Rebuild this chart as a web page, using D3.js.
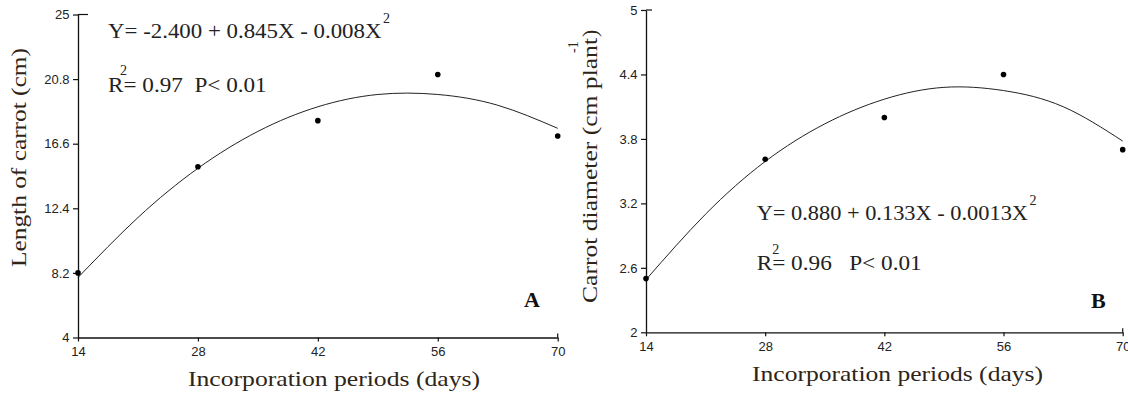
<!DOCTYPE html>
<html>
<head>
<meta charset="utf-8">
<script src="https://cdn.jsdelivr.net/npm/d3@7"></script>
<style>
    body { margin: 0; background: #fff; }
    svg text { white-space: pre; }
</style>
</head>
<body>
<div class="charts-div"></div>
<script>
// measured points
const days = [14, 28, 42, 56, 70];
const lengthValues = [8.2, 15.1, 18.1, 21.1, 17.1];
const diameterValues = [2.5, 3.61, 4.0, 4.4, 3.7];

// fitted curve every 7 days
const fitDays = [14, 21, 28, 35, 42, 49, 56, 63, 70];
const lengthFit = [7.9, 11.8, 15.0, 17.4, 19.0, 19.8, 19.8, 19.1, 17.6];
const diameterFit = [2.49, 3.1, 3.59, 3.94, 4.17, 4.28, 4.25, 4.1, 3.78];

// tick labels
const lengthTicks = [4, 8.2, 12.4, 16.6, 20.8, 25];
const diameterTicks = [2, 2.6, 3.2, 3.8, 4.4, 5];

const SERIF = "'Liberation Serif', 'Times New Roman', serif";
const SANS = "'Liberation Sans', Arial, sans-serif";
const TITLE_COLOR = "#2e2518";
const TEXT_COLOR = "#222";

const svg = d3.select(".charts-div").append("svg")
    .attr("width", 1128)
    .attr("height", 394)
    .attr("viewBox", [0, 0, 1128, 394]);

const drawPanel = (panel) => {
    const { x0, x1, y0, y1, yTicks, values, fit } = panel;
    const x = d3.scaleLinear().domain([14, 70]).range([x0, x1]);
    const y = d3.scaleLinear().domain(d3.extent(yTicks)).range([y1, y0]);
    const g = svg.append("g");

    // y axis
    const yAxis = g.append("g")
        .attr("transform", `translate(${x0},0)`)
        .call(d3.axisLeft(y).tickValues(yTicks).tickFormat((d) => String(d)).tickSize(5).tickSizeOuter(0).tickPadding(3.5));
    yAxis.select(".domain").attr("stroke", "#111").attr("stroke-width", 1.3);
    yAxis.selectAll(".tick line").attr("stroke", "#111").attr("stroke-width", 1.2);
    yAxis.selectAll("text").attr("font-family", SANS).attr("font-size", 13).attr("fill", TEXT_COLOR);
    // little cap at the top of the y axis
    g.append("line")
        .attr("x1", x0).attr("x2", x0 + panel.capRight)
        .attr("y1", y(d3.max(yTicks))).attr("y2", y(d3.max(yTicks)))
        .attr("stroke", "#111").attr("stroke-width", 1.2);

    // x axis
    const xAxis = g.append("g")
        .attr("transform", `translate(0,${y1})`)
        .call(d3.axisBottom(x).tickValues(days).tickSize(4).tickSizeOuter(0).tickPadding(5));
    xAxis.select(".domain").attr("stroke", "#111").attr("stroke-width", 1.3);
    xAxis.selectAll(".tick line").attr("stroke", "#111").attr("stroke-width", 1.2);
    xAxis.selectAll("text").attr("font-family", SANS).attr("font-size", 13).attr("fill", TEXT_COLOR);
    g.append("line")
        .attr("x1", x(70)).attr("x2", x(70))
        .attr("y1", y1 - 4).attr("y2", y1)
        .attr("stroke", "#111").attr("stroke-width", 1.2);

    // fitted curve
    const line = d3.line()
        .x((d, i) => x(fitDays[i]))
        .y((d) => y(d))
        .curve(d3.curveNatural);
    g.append("path")
        .attr("d", line(fit))
        .attr("fill", "none")
        .attr("stroke", "#222")
        .attr("stroke-width", 1);

    // points
    g.selectAll(".visualPlotting")
        .data(values)
        .join("circle")
        .attr("class", "visualPlotting")
        .attr("cx", (d, i) => x(days[i]))
        .attr("cy", (d) => y(d))
        .attr("r", 2.8)
        .attr("fill", "#000");

    // x title
    g.append("text")
        .attr("x", panel.xTitle[0]).attr("y", panel.xTitle[1])
        .attr("textLength", panel.xTitle[2]).attr("lengthAdjust", "spacingAndGlyphs")
        .attr("font-family", SERIF).attr("font-size", 22).attr("fill", TITLE_COLOR)
        .text("Incorporation periods (days)");

    // panel letter
    g.append("text")
        .attr("x", panel.letter[0]).attr("y", panel.letter[1])
        .attr("font-family", SERIF).attr("font-size", 22).attr("font-weight", "bold").attr("fill", "#111")
        .text(panel.letter[2]);

    // regression text
    const eq = panel.equation;
    g.append("text")
        .attr("x", eq.x).attr("y", eq.y1)
        .attr("textLength", eq.len1).attr("lengthAdjust", "spacingAndGlyphs")
        .attr("font-family", SERIF).attr("font-size", 20).attr("fill", TEXT_COLOR)
        .text(eq.line1);
    g.append("text")
        .attr("x", eq.x + eq.len1 + 1.5).attr("y", eq.y1 - 15)
        .attr("font-family", SERIF).attr("font-size", 14).attr("fill", TEXT_COLOR)
        .text("2");
    g.append("text")
        .attr("x", eq.x).attr("y", eq.y2)
        .attr("textLength", eq.len2).attr("lengthAdjust", "spacingAndGlyphs")
        .attr("font-family", SERIF).attr("font-size", 20).attr("fill", TEXT_COLOR)
        .text(eq.line2);
    g.append("text")
        .attr("x", eq.x + eq.rSup).attr("y", eq.y2 - 16.5)
        .attr("font-family", SERIF).attr("font-size", 14).attr("fill", TEXT_COLOR)
        .text("2");

    return g;
};

// Panel A
const panelA = drawPanel({
    x0: 78, x1: 557.7, y0: 14.5, y1: 337.5, capRight: 10,
    yTicks: lengthTicks, values: lengthValues, fit: lengthFit,
    xTitle: [188, 386, 292],
    letter: [524, 307, "A"],
    equation: {
        x: 108, y1: 38.3, y2: 91.7, len1: 273.5, len2: 158.7, rSup: 12,
        line1: "Y= -2.400 + 0.845X - 0.008X",
        line2: "R= 0.97  P< 0.01"
    }
});
panelA.append("text")
    .attr("transform", "translate(26,157.5) rotate(-90)")
    .attr("text-anchor", "middle")
    .attr("textLength", 219).attr("lengthAdjust", "spacingAndGlyphs")
    .attr("font-family", SERIF).attr("font-size", 22).attr("fill", TITLE_COLOR)
    .text("Length of carrot (cm)");

// Panel B
const panelB = drawPanel({
    x0: 646, x1: 1122.7, y0: 10, y1: 332.3, capRight: 6,
    yTicks: diameterTicks, values: diameterValues, fit: diameterFit,
    xTitle: [752, 381, 291],
    letter: [1091, 308, "B"],
    equation: {
        x: 756.7, y1: 220, y2: 270, len1: 271.3, len2: 165, rSup: 15.5,
        line1: "Y= 0.880 + 0.133X - 0.0013X",
        line2: "R= 0.96   P< 0.01"
    }
});
const yTitleB = panelB.append("g").attr("transform", "translate(597,303) rotate(-90)");
yTitleB.append("text")
    .attr("x", 0).attr("y", 0)
    .attr("textLength", 265).attr("lengthAdjust", "spacingAndGlyphs")
    .attr("font-family", SERIF).attr("font-size", 22).attr("fill", TITLE_COLOR)
    .text("Carrot diameter (cm plant");
yTitleB.append("text")
    .attr("x", 250).attr("y", -19)
    .attr("font-family", SERIF).attr("font-size", 14).attr("fill", TITLE_COLOR)
    .text("-1");
yTitleB.append("text")
    .attr("x", 266).attr("y", 0)
    .attr("font-family", SERIF).attr("font-size", 22).attr("fill", TITLE_COLOR)
    .text(")");
</script>
</body>
</html>
